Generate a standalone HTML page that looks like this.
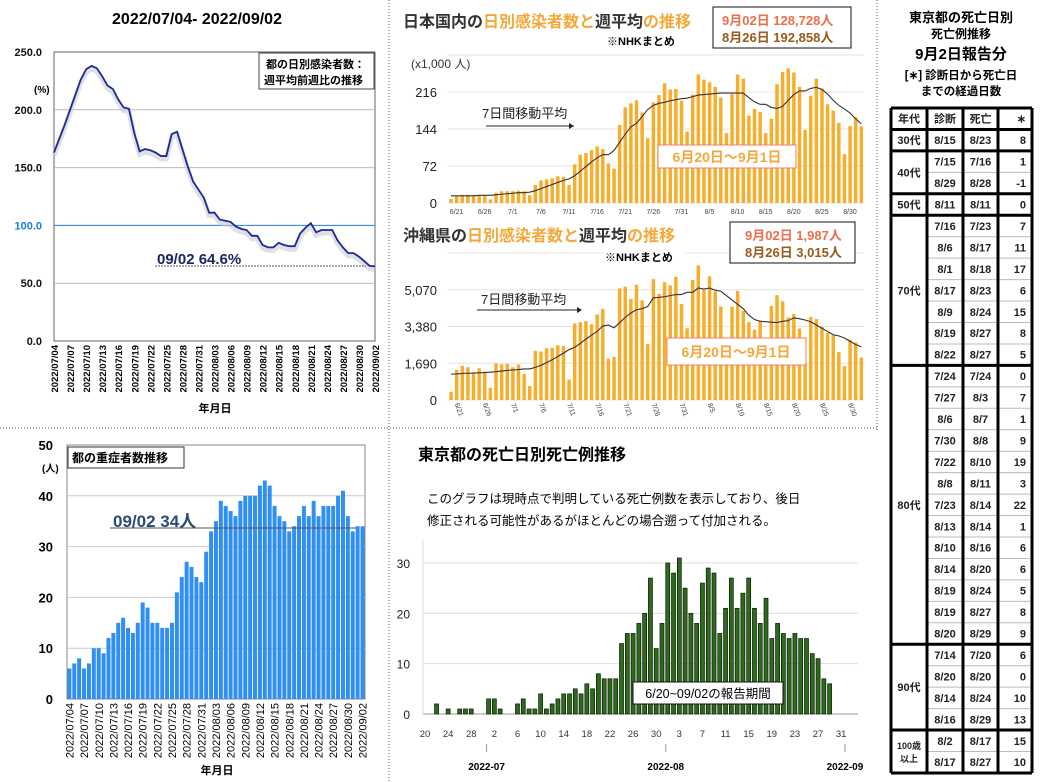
<!DOCTYPE html>
<html><head><meta charset="utf-8">
<style>
body{margin:0;background:#fff;}
svg{display:block;font-family:"Liberation Sans","Noto Sans CJK JP",sans-serif;}
</style></head>
<body>
<svg id="s" width="1044" height="782" viewBox="0 0 1044 782" xmlns="http://www.w3.org/2000/svg">
<!-- dividers -->
<line x1="389" y1="0" x2="389" y2="782" stroke="#555" stroke-dasharray="1,2"/>
<line x1="877" y1="0" x2="877" y2="430" stroke="#555" stroke-dasharray="1,2"/>
<line x1="0" y1="428" x2="877" y2="428" stroke="#555" stroke-dasharray="1,2"/>

<!-- top-left -->
<g>
<text x="197" y="24" text-anchor="middle" font-size="16" font-weight="bold">2022/07/04- 2022/09/02</text>
<rect x="54" y="52" width="321" height="289" fill="#fff" stroke="#666"/>
<g id="g1"></g>
<rect x="259" y="53" width="115" height="36" fill="#fff" stroke="#444"/>
<text x="266" y="68" font-size="11" font-weight="bold">都の日別感染者数：</text>
<text x="264" y="84" font-size="11" font-weight="bold">週平均前週比の推移</text>
<text x="34" y="93" font-size="10" font-weight="bold">(%)</text>
<text x="157" y="264" font-size="15" font-weight="bold" fill="#1a2660">09/02 64.6%</text>
<line x1="155" y1="266" x2="366" y2="266" stroke="#555" stroke-dasharray="2,1"/>
<text x="215" y="412" text-anchor="middle" font-size="11" font-weight="bold">年月日</text>
</g>

<!-- bottom-left -->
<g>
<rect x="67" y="445" width="298" height="254" fill="#fff" stroke="#888"/>
<g id="g2"></g>
<rect x="68" y="447" width="116" height="21" fill="#fff" stroke="#333"/>
<text x="72" y="462" font-size="12" font-weight="bold">都の重症者数推移</text>
<text x="42" y="472" font-size="10" font-weight="bold">(人)</text>
<text x="113" y="527" font-size="17" font-weight="bold" fill="#2a4a78">09/02 34人</text>
<line x1="110" y1="528" x2="356" y2="528" stroke="#555"/>
<text x="217" y="774" text-anchor="middle" font-size="11" font-weight="bold">年月日</text>
</g>

<!-- Japan -->
<g>
<text x="403" y="27" font-size="16" font-weight="bold"><tspan fill="#333">日本国内の</tspan><tspan fill="#f5a83a">日別感染者数と</tspan><tspan fill="#333">週平均</tspan><tspan fill="#f5a83a">の推移</tspan></text>
<text x="607" y="45" font-size="11" font-weight="bold">※NHKまとめ</text>
<rect x="713" y="7" width="138" height="41" fill="#fff" stroke="#111"/>
<text x="722" y="25" font-size="13" font-weight="bold" fill="#e9704a">9月02日 128,728人</text>
<text x="722" y="42" font-size="13" font-weight="bold" fill="#9a5a1c">8月26日 192,858人</text>
<text x="411" y="68" font-size="12" fill="#333">(x1,000 人)</text>
<g id="g3"></g>
<text x="482" y="118" font-size="13" fill="#222">7日間移動平均</text>
<line x1="486" y1="126" x2="574" y2="126" stroke="#222"/>
<path d="M574 126 l-5 -3 v6z" fill="#222"/>
<rect x="658" y="145" width="138" height="23" fill="#fff" stroke="#f0806a"/>
<text x="727" y="162" text-anchor="middle" font-size="14" font-weight="bold" fill="#f5a83a">6月20日〜9月1日</text>
</g>

<!-- Okinawa -->
<g>
<text x="403" y="241" font-size="16" font-weight="bold"><tspan fill="#333">沖縄県の</tspan><tspan fill="#f5a83a">日別感染者数と</tspan><tspan fill="#333">週平均</tspan><tspan fill="#f5a83a">の推移</tspan></text>
<g id="g4"></g>
<rect x="605" y="248" width="80" height="16" fill="#fff"/>
<text x="605" y="261" font-size="11" font-weight="bold">※NHKまとめ</text>
<rect x="730" y="222" width="125" height="41" fill="#fff" stroke="#111"/>
<text x="745" y="240" font-size="13" font-weight="bold" fill="#e9704a">9月02日 1,987人</text>
<text x="745" y="257" font-size="13" font-weight="bold" fill="#9a5a1c">8月26日 3,015人</text>
<text x="481" y="304" font-size="13" fill="#222">7日間移動平均</text>
<line x1="477" y1="310" x2="580" y2="310" stroke="#222"/>
<path d="M582 310 l-5 -3 v6z" fill="#222"/>
<rect x="667" y="338" width="139" height="27" fill="#fff" stroke="#f0806a"/>
<text x="736" y="357" text-anchor="middle" font-size="14" font-weight="bold" fill="#f5a83a">6月20日〜9月1日</text>
</g>

<!-- deaths -->
<g>
<text x="418" y="460" font-size="16" font-weight="bold">東京都の死亡日別死亡例推移</text>
<text x="427" y="503" font-size="12.5">このグラフは現時点で判明している死亡例数を表示しており、後日</text>
<text x="427" y="525" font-size="12.5">修正される可能性があるがほとんどの場合遡って付加される。</text>
<line x1="423" y1="540" x2="423" y2="714" stroke="#ddd"/>
<g id="g5"></g>
<rect x="633" y="682" width="150" height="22" fill="#fff" stroke="#111"/>
<text x="708" y="698" text-anchor="middle" font-size="12.5">6/20~09/02の報告期間</text>
</g>

<!-- table -->
<g>
<text x="961" y="22" text-anchor="middle" font-size="13" font-weight="bold">東京都の死亡日別</text>
<text x="961" y="38" text-anchor="middle" font-size="12" font-weight="bold">死亡例推移</text>
<text x="961" y="59" text-anchor="middle" font-size="15" font-weight="bold">9月2日報告分</text>
<text x="961" y="79" text-anchor="middle" font-size="11.5" font-weight="bold">[∗] 診断日から死亡日</text>
<text x="961" y="95" text-anchor="middle" font-size="11.5" font-weight="bold">までの経過日数</text>
<g id="g6"></g>
</g>
</svg>
<script>
const NS='http://www.w3.org/2000/svg';
function mk(p,tag,a,txt){const e=document.createElementNS(NS,tag);for(const k in a)e.setAttribute(k,a[k]);if(txt!==undefined)e.textContent=txt;p.appendChild(e);return e;}

// ---- ratio chart data
const ratioTicks=[0,50,100,150,200,250];
const ratioDates=["2022/07/04","2022/07/07","2022/07/10","2022/07/13","2022/07/16","2022/07/19","2022/07/22","2022/07/25","2022/07/28","2022/07/31","2022/08/03","2022/08/06","2022/08/09","2022/08/12","2022/08/15","2022/08/18","2022/08/21","2022/08/24","2022/08/27","2022/08/30","2022/09/02"];
const ratioValues=[163,175,187,200,213,226,235,238,236,229,221,218,209,202,201,180,164,166,165,163,160,160,179,181,166,151,138,131,124,111,111,105,104,103,99,97,96,91,91,83,81,81,85,83,82,82,93,98,102,94,96,96,96,87,81,76,76,73,69,65,64.6];
// ---- severe
const severeTicks=[0,10,20,30,40,50];
const severeValues=[6,7,8,6,7,10,10,9,12,13,15,16,14,13,15,19,18,15,15,14,14,15,21,24,27,26,24,23,29,33,35,39,38,37,36,39,40,40,40,42,43,42,38,36,35,33,34,36,38,36,39,36,38,38,38,40,41,36,33,34,34];
// ---- japan
const japanTicks=[0,72,144,216,288];
const japanTickLabels=["0","72","144","216",""];
const japanDateLabels=["6/21","6/26","7/1","7/6","7/11","7/16","7/21","7/26","7/31","8/5","8/10","8/15","8/20","8/25","8/30"];
const japanDaily=[8,13,16,16,15,15,14,7,20,23,23,23,24,23,15,35,44,46,48,52,51,35,75,94,97,103,110,105,77,67,152,186,194,200,176,126,196,210,233,221,222,199,139,211,250,240,235,226,205,136,212,250,242,170,183,177,136,164,231,255,262,254,226,142,209,242,223,192,180,156,95,150,167,149];
const japanAvg=[14,14,14,14,14,15,15,15,16,17,18,19,20,20,21,24,28,32,36,40,44,47,53,62,71,80,88,94,94,102,118,134,148,155,168,182,190,194,196,199,201,203,204,207,210,211,212,213,214,214,214,214,214,205,197,192,192,186,184,188,200,211,218,218,223,225,221,212,200,190,183,175,164,154];
// ---- okinawa
const okiTicks=[0,1690,3380,5070,6760];
const okiTickLabels=["0","1,690","3,380","5,070",""];
const okiDaily=[380,1380,1570,1510,1250,1460,1310,560,1680,1640,1660,1500,1630,1200,640,2260,2230,2380,2400,2520,2480,940,3520,3580,3630,3480,3930,4190,1900,1980,5130,5210,4650,5300,4580,2570,5560,4880,5420,5270,5670,4420,3300,5520,6190,5060,5690,5000,4300,1700,4290,5020,4100,3580,3230,3650,1700,4330,4820,4540,3800,3960,3290,1700,3820,3720,3370,3080,2980,2200,1560,2770,2650,1950];
const okiAvg=[1190,1200,1220,1230,1240,1250,1260,1280,1300,1330,1360,1380,1400,1430,1430,1500,1600,1720,1850,2000,2150,2320,2420,2600,2800,2980,3150,3400,3450,3320,3550,3800,4000,4150,4200,4300,4700,4720,4750,4800,4850,4850,4950,4950,5150,5100,5150,5050,5000,4800,4600,4400,4200,3900,3700,3620,3600,3580,3560,3620,3650,3780,3740,3680,3600,3450,3300,3150,3000,2950,2850,2700,2550,2450];
// ---- deaths
const deathTicks=[0,10,20,30];
const deathDayLabels=["20","24","28","2","6","10","14","18","22","26","30","3","7","11","15","19","23","27","31"];
const deathMonths=["2022-07","2022-08","2022-09"];
const deathValues=[0,0,2,0,1,0,1,1,1,0,0,3,3,1,0,0,2,3,1,1,4,1,2,3,4,4,5,4,6,5,8,7,7,7,14,16,16,18,20,27,13,18,30,28,31,25,20,18,26,29,28,16,21,27,21,24,27,21,18,23,15,18,16,15,16,15,15,12,11,7,6,0,0];
// ---- table
const tableGroups=[["30代",[["8/15","8/23","8"]]],["40代",[["7/15","7/16","1"],["8/29","8/28","-1"]]],["50代",[["8/11","8/11","0"]]],["70代",[["7/16","7/23","7"],["8/6","8/17","11"],["8/1","8/18","17"],["8/17","8/23","6"],["8/9","8/24","15"],["8/19","8/27","8"],["8/22","8/27","5"]]],["80代",[["7/24","7/24","0"],["7/27","8/3","7"],["8/6","8/7","1"],["7/30","8/8","9"],["7/22","8/10","19"],["8/8","8/11","3"],["7/23","8/14","22"],["8/13","8/14","1"],["8/10","8/16","6"],["8/14","8/20","6"],["8/19","8/24","5"],["8/19","8/27","8"],["8/20","8/29","9"]]],["90代",[["7/14","7/20","6"],["8/20","8/20","0"],["8/14","8/24","10"],["8/16","8/29","13"]]],["100歳|以上",[["8/2","8/17","15"],["8/17","8/27","10"]]]];

// ===== ratio chart
(function(){
const g=document.getElementById('g1');
const N=ratioValues.length;
const x=i=>54+i*321/(N-1), y=v=>341-v*289/250;
ratioTicks.forEach(t=>{
 if(t>0&&t<250){const l=mk(g,'line',{x1:54,x2:375,y1:y(t),y2:y(t),stroke:t==100?'#2a7be0':'#bbb'});
 
 }
 const tx=mk(g,'text',{x:42,y:y(t)+4,'text-anchor':'end','font-size':11,'font-weight':'bold',fill:t==100?'#1a7fe0':'#111'},t.toFixed(1));
 
 
});
const sh=mk(g,'polyline',{points:ratioValues.map((v,i)=>x(i)+','+(y(v)+3)).join(' '),fill:'none',stroke:'#ccc','stroke-width':5,opacity:0.6});


const pl=mk(g,'polyline',{points:ratioValues.map((v,i)=>x(i)+','+y(v)).join(' '),fill:'none',stroke:'#1a2a9a','stroke-width':1.8});


ratioDates.forEach((d,k)=>{const xx=x(k*3)+4;
 const t=mk(g,'text',{x:0,y:0,transform:`translate(${xx},345) rotate(-90)`,'text-anchor':'end','font-size':9.5,'font-weight':'bold'},d);
 
 });
})();

// ===== severe chart
(function(){
const g=document.getElementById('g2');
const N=severeValues.length, w=298/N;
const x=i=>67+i*w, y=v=>699-v*254/50;
severeTicks.forEach(t=>{
 if(t>0&&t<50){const l=mk(g,'line',{x1:67,x2:365,y1:y(t),y2:y(t),stroke:'#ccc'});
 
 }
 const tx=mk(g,'text',{x:53,y:y(t)+5,'text-anchor':'end','font-size':13,'font-weight':'bold'},String(t));
 
 
});
severeValues.forEach((v,i)=>{const r=mk(g,'rect',{x:x(i)+0.4,y:y(v),width:w-0.9,height:v*254/50,fill:'#2f8ff2'});
 
 });
ratioDates.forEach((d,k)=>{const xx=x(k*3)+w/2+4;
 const t=mk(g,'text',{x:0,y:0,transform:`translate(${xx},703) rotate(-90)`,'text-anchor':'end','font-size':11},d);
 
 });
})();

// ===== infection charts
function infection(gid,daily,avg,ticks,tickLabels,top,zeroY,rotate,prefix){
const g=document.getElementById(gid);
const N=daily.length, dx=5.62, maxT=ticks[ticks.length-1];
const x=i=>451+i*dx, y=v=>zeroY-v*(zeroY-top)/maxT;
ticks.forEach((t,k)=>{const l=mk(g,'line',{x1:447,x2:864,y1:y(t),y2:y(t),stroke:'#e4e4e4'});
 
 
 const tx=mk(g,'text',{x:437,y:y(t)+5,'text-anchor':'end','font-size':13,fill:'#222'},tickLabels[k]);
 
 });
daily.forEach((v,i)=>{const r=mk(g,'rect',{x:x(i)-1.7,y:y(v),width:3.5,height:zeroY-y(v),fill:'#f6ae2d'});
 
 });
const pl=mk(g,'polyline',{points:avg.map((v,i)=>x(i)+','+y(v)).join(' '),fill:'none',stroke:'#333','stroke-width':1.1});


japanDateLabels.forEach((d,k)=>{const xx=x(1+k*5);
 const t=rotate?mk(g,'text',{x:0,y:0,transform:`translate(${xx-2},${zeroY+4}) rotate(70)`,'font-size':7,fill:'#444'},d)
 :mk(g,'text',{x:xx,y:zeroY+11,'text-anchor':'middle','font-size':7,fill:'#444'},d);
 
 });
}
infection('g3',japanDaily,japanAvg,japanTicks,japanTickLabels,55,203,false,'japan');
infection('g4',okiDaily,okiAvg,okiTicks,okiTickLabels,253,400,true,'okinawa');

// ===== deaths
(function(){
const g=document.getElementById('g5');
const dx=5.78, x=i=>425+i*dx, y=v=>714-v*151/30;
deathTicks.forEach(t=>{const l=mk(g,'line',{x1:423,x2:858,y1:y(t),y2:y(t),stroke:t==0?'#999':'#ddd'});
 
 
 const tx=mk(g,'text',{x:410,y:y(t)+5,'text-anchor':'end','font-size':12,fill:'#222'},String(t));
 
 });
deathValues.forEach((v,i)=>{if(v<=0)return;const r=mk(g,'rect',{x:x(i)-2,y:y(v),width:4,height:v*151/30,fill:'#2e6a1c',stroke:'#0a1a05','stroke-width':0.7});
 
 });
deathDayLabels.forEach((d,k)=>{const t=mk(g,'text',{x:x(k*4),y:737,'text-anchor':'middle','font-size':9.5,fill:'#333'},d);
 
 });
const mIdx=[11,42,73];
deathMonths.forEach((m,k)=>{const xx=x(mIdx[k])-2;
 const l=mk(g,'line',{x1:xx,x2:xx,y1:744,y2:752,stroke:'#999'});
 
 
 const t=mk(g,'text',{x:xx,y:770,'text-anchor':'middle','font-size':10,'font-weight':'bold'},m);
 
 });
})();

// ===== table
(function(){
const g=document.getElementById('g6');
const cols=[891,927,963,998,1032], top=108, rh=21.45;
const hdr=["年代","診断","死亡","∗"];
let r=0;
function cell(txt,col,row,bold){const cx=col==3?cols[4]-6:(cols[col]+cols[col+1])/2;
 const t=mk(g,'text',{x:cx,y:top+row*rh+rh/2+4,'text-anchor':col==3?'end':'middle','font-size':11,'font-weight':'bold',fill:'#222'},txt);
 
 }
hdr.forEach((h,c)=>cell(h,c,0));
const thick=[0,1];
r=1;
tableGroups.forEach(([age,rows])=>{
 const gy=top+r*rh;
 rows.forEach((row,k)=>{row.forEach((v,c)=>cell(v,c+1,r+k));
  if(k>0){const l=mk(g,'line',{x1:cols[1],x2:cols[4],y1:top+(r+k)*rh,y2:top+(r+k)*rh,stroke:'#bbb','stroke-width':1});
  
  }});
 const parts=age.split('|'), my=gy+rows.length*rh/2;
 parts.forEach((p,k)=>{const t=mk(g,'text',{x:(cols[0]+cols[1])/2,y:my+4+(parts.length>1?(k-0.5)*13:0),'text-anchor':'middle','font-size':parts.length>1?9:11,'font-weight':'bold',fill:'#222'},p);
  
  });
 r+=rows.length;
 thick.push(r);
});
const bottom=top+r*rh;
thick.forEach(k=>{const l=mk(g,'line',{x1:cols[0],x2:cols[4],y1:top+k*rh,y2:top+k*rh,stroke:'#000','stroke-width':3});
 
 });
cols.forEach(cx=>{const l=mk(g,'line',{x1:cx,x2:cx,y1:top,y2:bottom,stroke:'#000','stroke-width':3});
 
 });
})();
</script>
</body></html>
